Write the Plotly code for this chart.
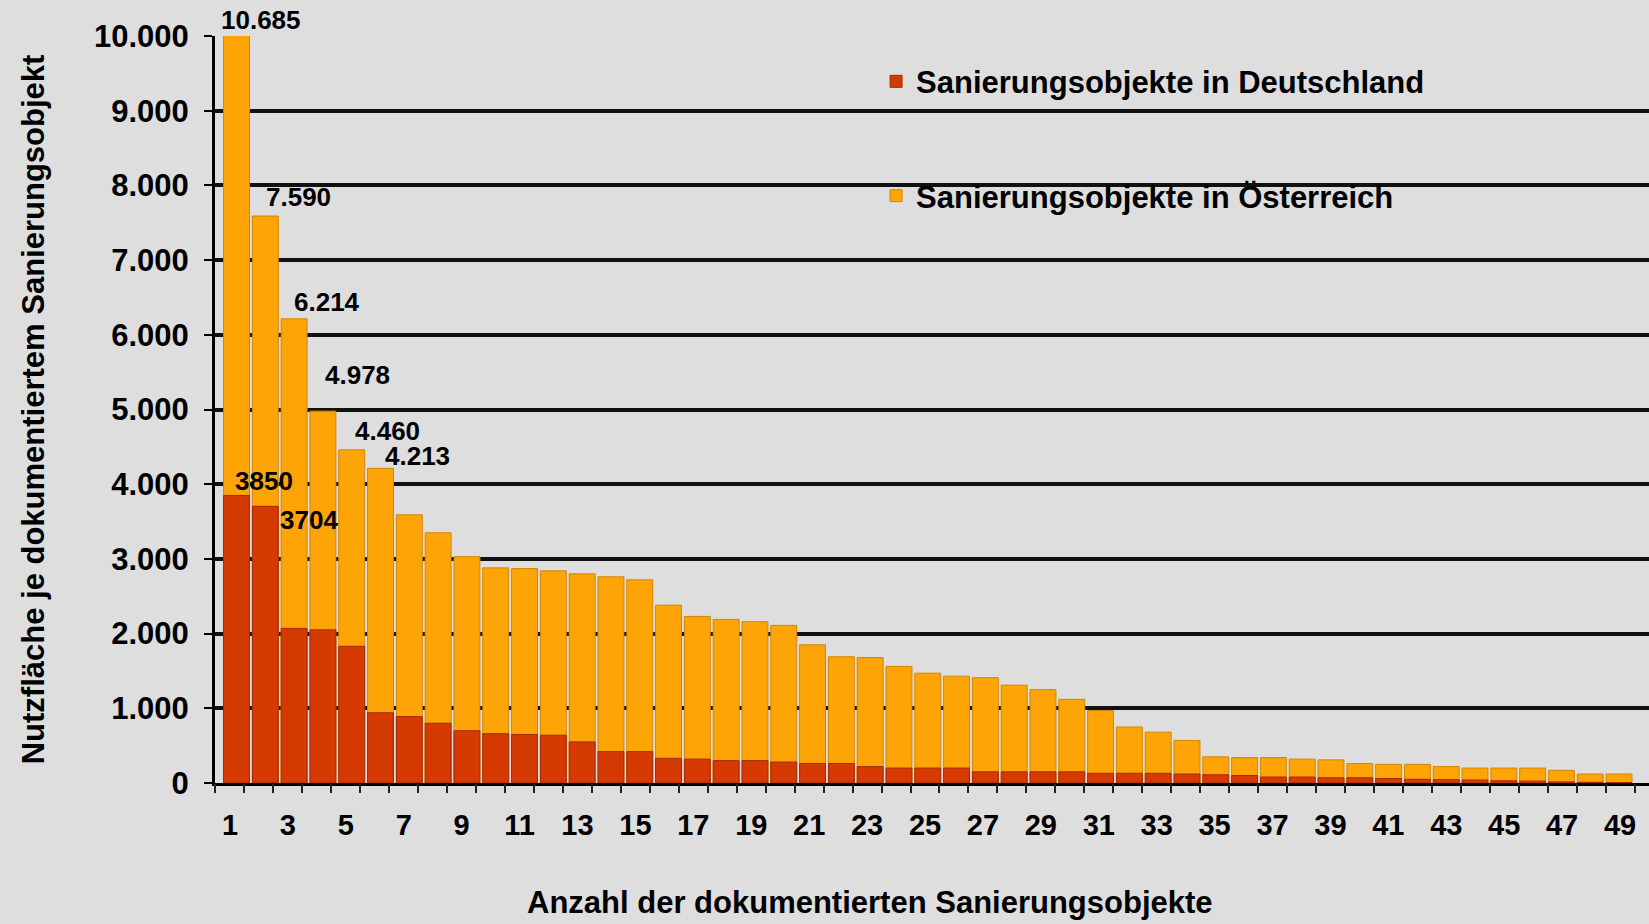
import plotly.graph_objects as go

# Data
objekte = list(range(1, 50))

oesterreich = [10685, 7590, 6214, 4978, 4460, 4213, 3590, 3350, 3030, 2880,
               2870, 2840, 2800, 2760, 2720, 2380, 2230, 2190, 2160, 2110,
               1850, 1690, 1680, 1560, 1470, 1430, 1410, 1310, 1250, 1120,
               970, 750, 680, 570, 350, 340, 340, 320, 310, 260,
               250, 250, 220, 200, 200, 200, 170, 120, 120]

deutschland = [3850, 3704, 2070, 2050, 1830, 940, 890, 800, 700, 660,
               650, 640, 550, 420, 420, 330, 320, 300, 300, 280,
               260, 260, 220, 200, 200, 200, 150, 150, 150, 150,
               130, 130, 130, 120, 110, 100, 80, 80, 70, 70,
               60, 50, 45, 40, 30, 25, 15, 10, 5]

y_ticks = list(range(0, 10001, 1000))
x_ticks = list(range(1, 50, 2))
y_max = 10000

# label offsets (px) for the annotated bars
oe_shift = [(24, 16), (33, 19), (33, 17), (35, 36), (36, 19), (37, 12)]
de_shift = [(27, 14), (44, -14)]

FONT = "Liberation Sans, Arial, sans-serif"
ORANGE = "#FFA406"
RED = "#D53A02"
BG = "#DEDEDE"


def bold(size):
    return dict(family=FONT, size=size, color="black", weight=700)


fig = go.Figure()
fig.add_trace(go.Bar(
    x=objekte, y=oesterreich, name="Sanierungsobjekte in Österreich",
    marker=dict(color=ORANGE, line=dict(color="#D28600", width=1)),
    width=0.9, legendgroup="at", legendrank=2,
))
fig.add_trace(go.Bar(
    x=objekte, y=deutschland, name="Sanierungsobjekte in Deutschland",
    marker=dict(color=RED, line=dict(color="#A52A00", width=1)),
    width=0.9, legendgroup="de", legendrank=1,
))
# helper trace so the front label axis is drawn
fig.add_trace(go.Scatter(
    x=[objekte[0], objekte[-1]], y=[0, 0], xaxis="x2", mode="markers",
    marker=dict(opacity=0), showlegend=False, hoverinfo="skip",
))

for i, (dx, dy) in enumerate(oe_shift):
    v = oesterreich[i]
    fig.add_annotation(
        x=objekte[i], y=min(v, y_max), xref="x", yref="y",
        text=f"{v:,}".replace(",", "."), showarrow=False,
        xshift=dx, yshift=dy, font=bold(26),
    )
for i, (dx, dy) in enumerate(de_shift):
    v = deutschland[i]
    fig.add_annotation(
        x=objekte[i], y=v, xref="x", yref="y",
        text=str(v), showarrow=False,
        xshift=dx, yshift=dy, font=bold(26),
    )

# x-axis title sits left of the plot centre in the original
fig.add_annotation(
    text="Anzahl der dokumentierten Sanierungsobjekte",
    xref="paper", yref="paper", x=0.457, y=-0.16,
    xanchor="center", yanchor="middle", showarrow=False, font=bold(31),
)

fig.update_layout(
    width=1649, height=924,
    margin=dict(l=215, r=0, t=36, b=141),
    paper_bgcolor=BG, plot_bgcolor=BG,
    barmode="overlay",
    separators=",.",
    showlegend=True,
    legend=dict(
        x=0.461, y=0.975, xanchor="left", yanchor="top",
        bgcolor="rgba(0,0,0,0)", font=bold(31),
        traceorder="grouped", tracegroupgap=71,
    ),
    xaxis=dict(
        range=[0.253, 50.04], showticklabels=False, ticks="",
        showgrid=False, zeroline=False,
        showline=True, linecolor="black", linewidth=3,
    ),
    xaxis2=dict(
        overlaying="x", anchor="y", side="bottom",
        range=[0.483, 50.0], tickvals=x_ticks,
        ticks="outside", ticklen=0,
        minor=dict(ticks="outside", tick0=0.5, dtick=1, ticklen=9,
                   tickwidth=1.5, tickcolor="#222", showgrid=False),
        tickfont=bold(29), ticklabelstandoff=16,
        showgrid=False, zeroline=False, showline=False,
    ),
    yaxis=dict(
        range=[0, y_max], tickvals=y_ticks, tickformat=",d",
        showgrid=True, gridcolor="#111", gridwidth=3.5,
        showline=True, linecolor="black", linewidth=3,
        ticks="outside", ticklen=8, tickwidth=2, tickcolor="black",
        tickfont=bold(31), ticklabelstandoff=9, zeroline=False,
        title=dict(text="Nutzfläche je dokumentiertem Sanierungsobjekt",
                   font=bold(31), standoff=41),
    ),
)

fig.write_html("out.html", config={"displayModeBar": False},
               post_script="document.body.style.margin = '0';")
